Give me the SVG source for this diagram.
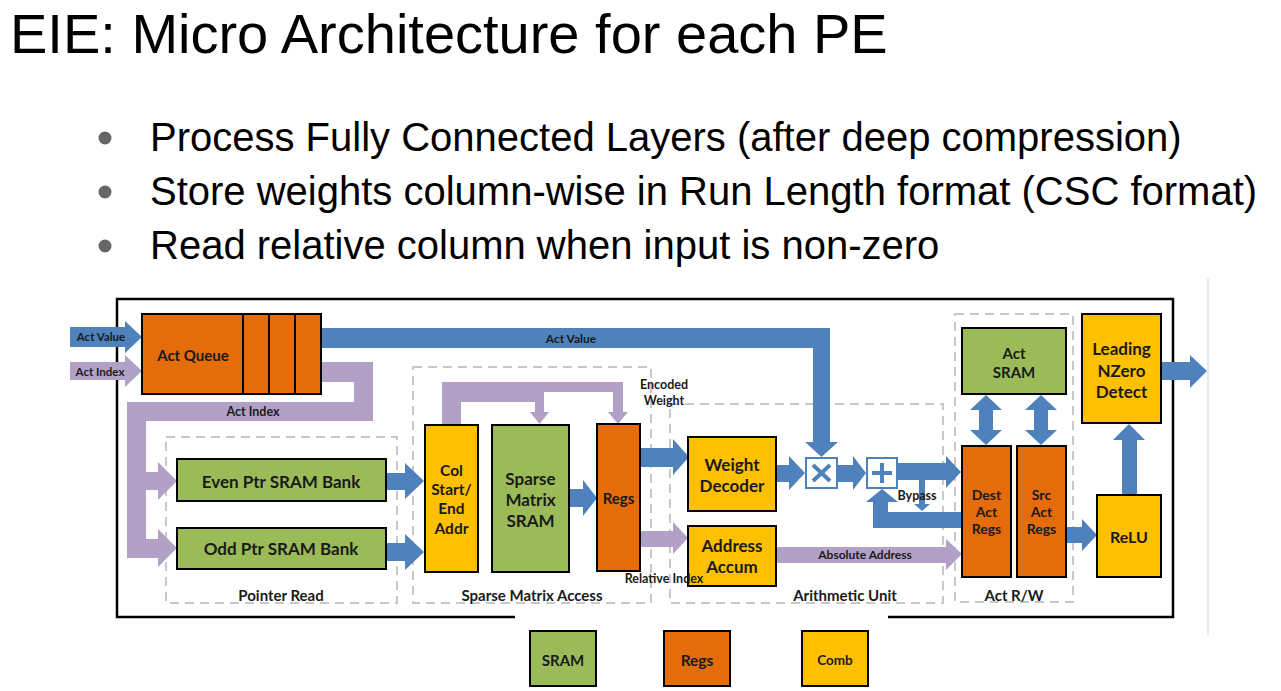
<svg xmlns="http://www.w3.org/2000/svg" width="1281" height="691" viewBox="0 0 1281 691">
<defs>
<style>
.t{font-family:Lato,"Liberation Sans",sans-serif;font-weight:700;fill:#1a1a1a;text-anchor:middle;dominant-baseline:central}
.hd{font-family:"Liberation Sans",Arial,sans-serif;fill:#000}
.box{stroke:#000;stroke-width:2}
.sram{fill:#9BBB59}
.regs{fill:#E46C0A}
.comb{fill:#FFC000}
.blue{fill:#4F81BD}
.purp{fill:#B2A1C7}
.dash{fill:none;stroke:#C8C8C8;stroke-width:2;stroke-dasharray:9 6}
.op{fill:#fff;stroke:#4F81BD;stroke-width:2}
.opl{stroke:#4F81BD;stroke-width:4;fill:none}
</style>
</defs>
<rect width="1281" height="691" fill="#fff"/>
<g id="title">
<text class="hd" x="10" y="53" font-size="56">EIE: Micro Architecture for each PE</text>
</g>
<g id="bullets">
<circle cx="105" cy="138" r="6.5" fill="#666"/>
<circle cx="105" cy="192" r="6.5" fill="#666"/>
<circle cx="105" cy="246" r="6.5" fill="#666"/>
<text class="hd" x="150" y="151" font-size="40">Process Fully Connected Layers (after deep compression)</text>
<text class="hd" x="150" y="205" font-size="40">Store weights column-wise in Run Length format (CSC format)</text>
<text class="hd" x="150" y="259" font-size="40">Read relative column when input is non-zero</text>
</g>
<g id="frame" fill="none" stroke="#000" stroke-width="2.5">
<polyline points="515,617 117,617 117,299 1173,299 1173,617 888,617"/>
<line x1="1208" y1="278" x2="1208" y2="635" stroke="#E0E0E0" stroke-width="1.5"/>
</g>
<g id="sections">
<rect class="dash" x="166" y="437" width="231" height="166"/>
<rect class="dash" x="413" y="367" width="238" height="236"/>
<rect class="dash" x="670" y="404" width="273" height="199"/>
<rect class="dash" x="955" y="314" width="118" height="288"/>
<text class="t" x="281" y="595" font-size="15">Pointer Read</text>
<text class="t" x="532" y="595" font-size="15">Sparse Matrix Access</text>
<text class="t" x="845" y="595" font-size="15">Arithmetic Unit</text>
<text class="t" x="1014" y="595" font-size="15">Act R/W</text>
</g>
<g id="connectors">
<polygon class="blue" points="70,327 125,327 125,321 142,337 125,353 125,347 70,347"/>
<polygon class="purp" points="70,362 125,362 125,355 142,371 125,387 125,380 70,380"/>
<polygon class="blue" points="321,328 830,328 830,442 838,442 821.5,457 805,442 813,442 813,348 321,348"/>
<polygon class="purp" points="321,362 373,362 373,421 146,421 146,472 158,472 158,462 177,481 158,500 158,490 146,490 146,539 158,539 158,529 177,548 158,567 158,558 127,558 127,402 354,402 354,382 321,382"/>
<polygon class="blue" points="386,473 405,473 405,463 424,481 405,499 405,490 386,490"/>
<polygon class="blue" points="386,543 405,543 405,534 424,552 405,570 405,561 386,561"/>
<polygon class="purp" points="442,425 442,382 623,382 623,412 628,412 618,424 608,412 613,412 613,392 544,392 544,412 549,412 539.5,424 530,412 535,412 535,402 461,402 461,425"/>
<polygon class="blue" points="569,489 583,489 583,480 597,498 583,516 583,507 569,507"/>
<polygon class="blue" points="640,448 673,448 673,439 689,457 673,475 673,467 640,467"/>
<polygon class="purp" points="640,531 673,531 673,522 688,538 673,554 673,547 640,547"/>
<polygon class="purp" points="776,547 946,547 946,539 962,554 946,570 946,563 776,563"/>
<polygon class="blue" points="776,465 789,465 789,456 805,473 789,490 789,482 776,482"/>
<polygon class="blue" points="837,465 853,465 853,456 866,473 853,490 853,482 837,482"/>
<polygon class="blue" points="897,463 946,463 946,456 961,472 946,488 946,480 897,480"/>
<polygon class="blue" points="919,480 925,480 925,504 930,504 922,511 914,504 919,504"/>
<polygon class="blue" points="961,512 961,528 873,528 873,502 866,502 882,489 898,502 888,502 888,512"/>
<polygon class="blue" points="986,395 1002,410 993,410 993,430 1002,430 986,445 970,430 979,430 979,410 970,410"/>
<polygon class="blue" points="1041,395 1057,410 1048,410 1048,430 1057,430 1041,445 1025,430 1034,430 1034,410 1025,410"/>
<polygon class="blue" points="1066,527 1082,527 1082,519 1097,535 1082,551 1082,543 1066,543"/>
<polygon class="blue" points="1122,495 1122,440 1113,440 1129,424 1145,440 1137,440 1137,495"/>
<polygon class="blue" points="1161,362 1190,362 1190,355 1207,371 1190,388 1190,380 1161,380"/>
</g>
<g id="act-queue">
<rect class="box regs" x="142" y="314" width="179" height="80"/>
<line x1="243" y1="314" x2="243" y2="394" stroke="#000" stroke-width="2"/>
<line x1="269" y1="314" x2="269" y2="394" stroke="#000" stroke-width="2"/>
<line x1="295" y1="314" x2="295" y2="394" stroke="#000" stroke-width="2"/>
<text class="t" x="193" y="355" font-size="15">Act Queue</text>
</g>
<g id="even-ptr">
<rect class="box sram" x="177" y="459" width="209" height="42"/>
<text class="t" x="281" y="481" font-size="17">Even Ptr SRAM Bank</text>
</g>
<g id="odd-ptr">
<rect class="box sram" x="177" y="528" width="209" height="41"/>
<text class="t" x="281" y="548" font-size="17">Odd Ptr SRAM Bank</text>
</g>
<g id="col-addr">
<rect class="box comb" x="425" y="425" width="53" height="147"/>
<text class="t" x="451.5" y="470" font-size="15.5">Col</text>
<text class="t" x="451.5" y="489" font-size="15.5">Start/</text>
<text class="t" x="451.5" y="508" font-size="15.5">End</text>
<text class="t" x="451.5" y="528" font-size="15.5">Addr</text>
</g>
<g id="sparse-sram">
<rect class="box sram" x="492" y="425" width="77" height="147"/>
<text class="t" x="530.5" y="478" font-size="17">Sparse</text>
<text class="t" x="530.5" y="499" font-size="17">Matrix</text>
<text class="t" x="530.5" y="520" font-size="17">SRAM</text>
</g>
<g id="regs">
<rect class="box regs" x="597" y="424" width="43" height="147"/>
<text class="t" x="618.5" y="498" font-size="15">Regs</text>
</g>
<g id="weight-decoder">
<rect class="box comb" x="688" y="437" width="88" height="74"/>
<text class="t" x="732" y="464" font-size="17">Weight</text>
<text class="t" x="732" y="485" font-size="17">Decoder</text>
</g>
<g id="address-accum">
<rect class="box comb" x="688" y="526" width="88" height="60"/>
<text class="t" x="732" y="545" font-size="17">Address</text>
<text class="t" x="732" y="566" font-size="17">Accum</text>
</g>
<g id="mult">
<rect class="op" x="806" y="458" width="31" height="30"/>
<path class="opl" d="M813,465 L830,481 M830,465 L813,481"/>
</g>
<g id="add">
<rect class="op" x="867" y="458" width="30" height="30"/>
<path class="opl" d="M882,463 V483 M872,473 H892"/>
</g>
<g id="act-sram">
<rect class="box sram" x="962" y="328" width="104" height="66"/>
<text class="t" x="1014" y="353" font-size="15">Act</text>
<text class="t" x="1014" y="372" font-size="15">SRAM</text>
</g>
<g id="dest-act-regs">
<rect class="box regs" x="962" y="446" width="49" height="131"/>
<text class="t" x="986.5" y="494" font-size="14">Dest</text>
<text class="t" x="986.5" y="511" font-size="14">Act</text>
<text class="t" x="986.5" y="528" font-size="14">Regs</text>
</g>
<g id="src-act-regs">
<rect class="box regs" x="1017" y="446" width="49" height="131"/>
<text class="t" x="1041.5" y="494" font-size="14">Src</text>
<text class="t" x="1041.5" y="511" font-size="14">Act</text>
<text class="t" x="1041.5" y="528" font-size="14">Regs</text>
</g>
<g id="leading-nzero">
<rect class="box comb" x="1082" y="314" width="79" height="109"/>
<text class="t" x="1121.5" y="348" font-size="17">Leading</text>
<text class="t" x="1121.5" y="370" font-size="17">NZero</text>
<text class="t" x="1121.5" y="391" font-size="17">Detect</text>
</g>
<g id="relu">
<rect class="box comb" x="1097" y="495" width="64" height="82"/>
<text class="t" x="1129" y="536" font-size="16">ReLU</text>
</g>
<g id="connector-labels">
<text class="t" x="101" y="336" font-size="11.5">Act Value</text>
<text class="t" x="100" y="371" font-size="11.5">Act Index</text>
<text class="t" x="571" y="338" font-size="12">Act Value</text>
<text class="t" x="253" y="411" font-size="12.5">Act Index</text>
<text class="t" x="664" y="384" font-size="12.5">Encoded</text>
<text class="t" x="664" y="400" font-size="12.5">Weight</text>
<text class="t" x="664" y="578" font-size="12.5">Relative Index</text>
<text class="t" x="865" y="554" font-size="12">Absolute Address</text>
<text class="t" x="917" y="495" font-size="12.5">Bypass</text>
</g>
<g id="legend">
<rect class="box sram" x="530" y="631" width="66" height="55"/>
<text class="t" x="563" y="660" font-size="15">SRAM</text>
<rect class="box regs" x="664" y="631" width="66" height="55"/>
<text class="t" x="697" y="660" font-size="15.5">Regs</text>
<rect class="box comb" x="802" y="631" width="66" height="55"/>
<text class="t" x="835" y="660" font-size="13.5">Comb</text>
</g>
</svg>
